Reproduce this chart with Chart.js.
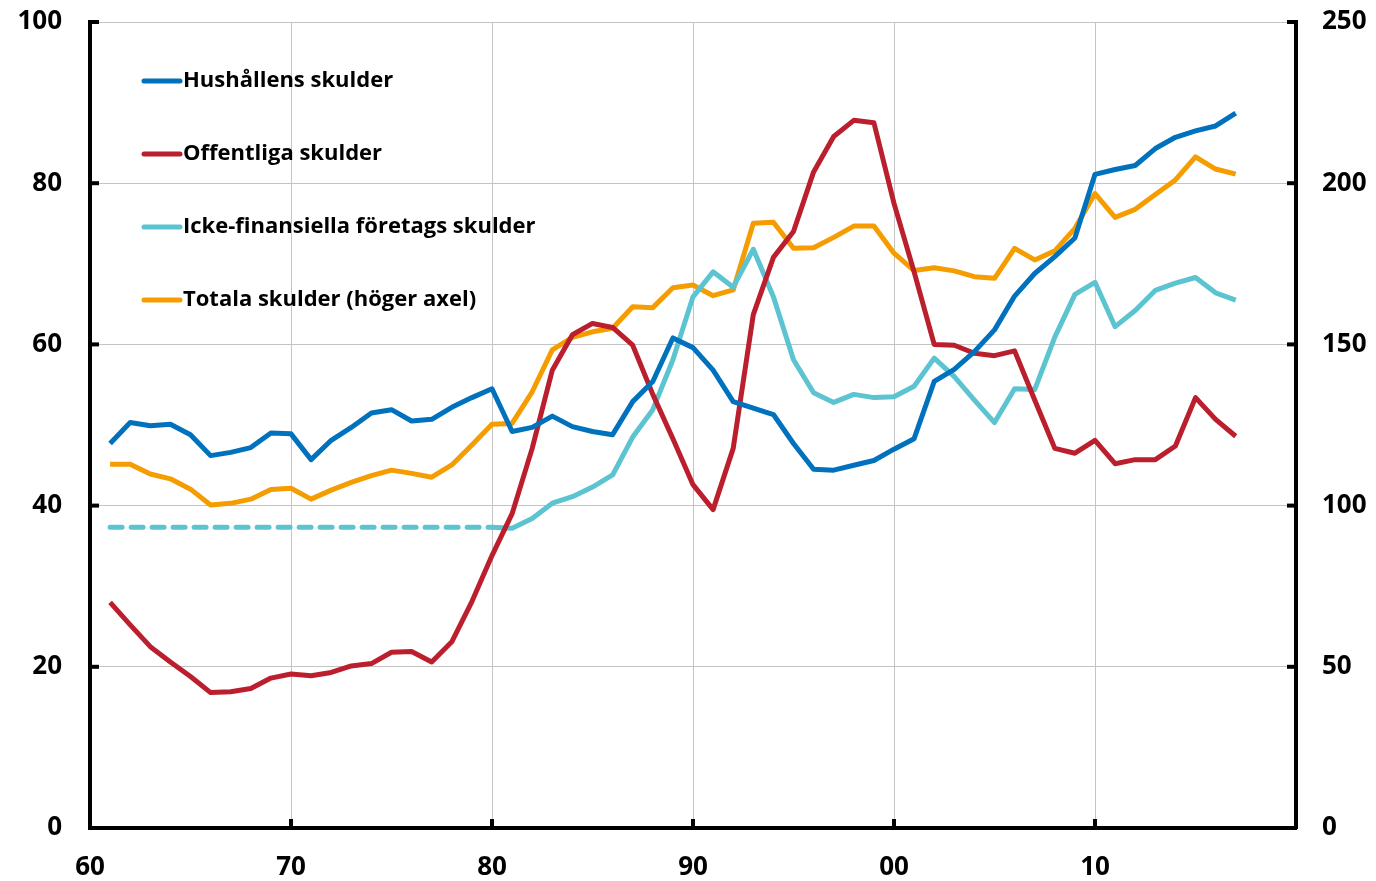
<!DOCTYPE html>
<html>
<head>
<meta charset="utf-8">
<script src="https://cdn.jsdelivr.net/npm/chart.js@4"></script>
<style>
  body { margin: 0; background: #fff; }
  canvas { display: block; }
</style>
</head>
<body>
<canvas id="grafico" width="1376" height="881"></canvas>
<script>
// Años (eje X)
const anios = [1961, 1962, 1963, 1964, 1965, 1966, 1967, 1968, 1969, 1970,
    1971, 1972, 1973, 1974, 1975, 1976, 1977, 1978, 1979, 1980,
    1981, 1982, 1983, 1984, 1985, 1986, 1987, 1988, 1989, 1990,
    1991, 1992, 1993, 1994, 1995, 1996, 1997, 1998, 1999, 2000,
    2001, 2002, 2003, 2004, 2005, 2006, 2007, 2008, 2009, 2010,
    2011, 2012, 2013, 2014, 2015, 2016, 2017];

// Hushållens skulder (vänster axel)
const hushall = [47.7, 50.3, 49.9, 50.1, 48.8, 46.2, 46.6, 47.2, 49.0, 48.9,
    45.7, 48.1, 49.7, 51.5, 51.9, 50.5, 50.7, 52.2, 53.4, 54.5,
    49.2, 49.7, 51.1, 49.8, 49.2, 48.8, 52.9, 55.4, 60.8, 59.6,
    56.8, 52.9, 52.1, 51.3, 47.7, 44.5, 44.4, 45.0, 45.6, 47.0,
    48.3, 55.4, 56.9, 59.1, 61.8, 66.0, 68.8, 70.9, 73.2, 81.1,
    81.7, 82.2, 84.3, 85.7, 86.5, 87.1, 88.7];

// Offentliga skulder (vänster axel)
const offentliga = [28.0, 25.2, 22.5, 20.6, 18.8, 16.8, 16.9, 17.3, 18.6, 19.1,
    18.9, 19.3, 20.1, 20.4, 21.8, 21.9, 20.6, 23.1, 28.1, 33.8,
    39.0, 47.1, 56.8, 61.2, 62.6, 62.1, 59.9, 53.8, 48.3, 42.6,
    39.5, 47.1, 63.7, 70.8, 74.0, 81.4, 85.8, 87.8, 87.5, 77.5,
    69.0, 60.0, 59.9, 58.9, 58.6, 59.2, 53.1, 47.1, 46.5, 48.1,
    45.2, 45.7, 45.7, 47.4, 53.4, 50.7, 48.6];

// Icke-finansiella företags skulder: uppskattad nivå (streckad) 1961-1980
const foretagAniosStreck = [1961, 1962, 1963, 1964, 1965, 1966, 1967, 1968, 1969, 1970,
    1971, 1972, 1973, 1974, 1975, 1976, 1977, 1978, 1979, 1980];
const foretagStreck = [37.3, 37.3, 37.3, 37.3, 37.3, 37.3, 37.3, 37.3, 37.3, 37.3,
    37.3, 37.3, 37.3, 37.3, 37.3, 37.3, 37.3, 37.3, 37.3, 37.3];

// Icke-finansiella företags skulder 1980-2017
const foretagAnios = [1980, 1981, 1982, 1983, 1984, 1985, 1986, 1987, 1988, 1989, 1990,
    1991, 1992, 1993, 1994, 1995, 1996, 1997, 1998, 1999, 2000,
    2001, 2002, 2003, 2004, 2005, 2006, 2007, 2008, 2009, 2010,
    2011, 2012, 2013, 2014, 2015, 2016, 2017];
const foretag = [37.3, 37.2, 38.4, 40.3, 41.1, 42.3, 43.8, 48.5, 51.9, 58.1, 65.9,
    69.0, 67.1, 71.8, 65.9, 58.1, 54.0, 52.8, 53.8, 53.4, 53.5,
    54.8, 58.3, 56.0, 53.1, 50.3, 54.5, 54.4, 60.9, 66.2, 67.7,
    62.2, 64.2, 66.7, 67.6, 68.3, 66.4, 65.5];

// Totala skulder (höger axel)
const totala = [112.8, 112.8, 109.8, 108.3, 105.1, 100.2, 100.7, 102.0, 105.0, 105.4,
    102.0, 104.8, 107.2, 109.3, 111.0, 110.0, 108.8, 112.6, 118.8, 125.2,
    125.5, 135.3, 148.3, 152.2, 153.9, 155.0, 161.7, 161.4, 167.6, 168.4,
    165.1, 166.9, 187.6, 187.9, 179.8, 180.0, 183.2, 186.7, 186.7, 178.3,
    172.9, 173.8, 172.8, 171.0, 170.5, 179.8, 176.2, 179.0, 186.0, 196.8,
    189.4, 191.9, 196.5, 201.0, 208.2, 204.4, 202.8];

const etiquetasX = { 1960: '60', 1970: '70', 1980: '80', 1990: '90', 2000: '00', 2010: '10' };

const AZUL = '#0071bc';
const ROJO = '#bb1f2d';
const CIAN = '#5cc3d0';
const NARANJA = '#f59d00';

const fuente = '"Open Sans", Lato, sans-serif';

function puntos(xs, ys) {
    return xs.map((x, i) => ({ x: x, y: ys[i] }));
}

// Ancho fijo de los ejes verticales, sin relleno extra arriba/abajo
function fijarAncho(ancho) {
    return (scale) => {
        scale.width = ancho;
        scale.paddingTop = 0;
        scale.paddingBottom = 0;
    };
}

// Leyenda dentro del área del gráfico
const leyenda = {
    id: 'leyenda',
    afterDatasetsDraw(chart) {
        const ctx = chart.ctx;
        const area = chart.chartArea;
        const items = [
            { texto: 'Hushållens skulder', color: AZUL },
            { texto: 'Offentliga skulder', color: ROJO },
            { texto: 'Icke-finansiella företags skulder', color: CIAN },
            { texto: 'Totala skulder (höger axel)', color: NARANJA }
        ];
        ctx.save();
        items.forEach((it, i) => {
            const y = area.top + 59 + i * 73;
            ctx.strokeStyle = it.color;
            ctx.lineWidth = 5;
            ctx.lineCap = 'round';
            ctx.beginPath();
            ctx.moveTo(area.left + 54, y);
            ctx.lineTo(area.left + 90, y);
            ctx.stroke();
            ctx.fillStyle = '#000';
            ctx.font = 'bold 22px ' + fuente;
            ctx.textBaseline = 'middle';
            ctx.textAlign = 'left';
            ctx.fillText(it.texto, area.left + 93, y);
        });
        ctx.restore();
    }
};

// Marcas de los ejes hacia adentro
const marcas = {
    id: 'marcas',
    afterDraw(chart) {
        const ctx = chart.ctx;
        const area = chart.chartArea;
        const s = chart.scales;
        ctx.save();
        ctx.fillStyle = '#000';
        s.y.ticks.forEach(t => {
            const py = s.y.getPixelForValue(t.value);
            ctx.fillRect(area.left, py - 2, 9, 4);
        });
        s.y2.ticks.forEach(t => {
            const py = s.y2.getPixelForValue(t.value);
            ctx.fillRect(area.right - 9, py - 2, 9, 4);
        });
        s.x.ticks.forEach(t => {
            const px = s.x.getPixelForValue(t.value);
            ctx.fillRect(px - 2, area.bottom - 9, 4, 9);
        });
        ctx.restore();
    }
};

new Chart(document.getElementById('grafico'), {
    type: 'line',
    data: {
        datasets: [
            {
                label: 'Hushållens skulder',
                data: puntos(anios, hushall),
                borderColor: AZUL,
                yAxisID: 'y'
            },
            {
                label: 'Offentliga skulder',
                data: puntos(anios, offentliga),
                borderColor: ROJO,
                yAxisID: 'y'
            },
            {
                label: 'Icke-finansiella företags skulder',
                data: puntos(foretagAnios, foretag),
                borderColor: CIAN,
                yAxisID: 'y'
            },
            {
                label: 'Icke-finansiella företags skulder (streckad)',
                data: puntos(foretagAniosStreck, foretagStreck),
                borderColor: CIAN,
                borderDash: [12, 9],
                borderCapStyle: 'round',
                yAxisID: 'y'
            },
            {
                label: 'Totala skulder (höger axel)',
                data: puntos(anios, totala),
                borderColor: NARANJA,
                yAxisID: 'y2'
            }
        ]
    },
    options: {
        responsive: false,
        devicePixelRatio: 1,
        animation: false,
        elements: {
            point: { radius: 0 },
            line: { borderWidth: 5, tension: 0, borderJoinStyle: 'round', fill: false }
        },
        layout: { padding: { top: 22, left: 0, right: 0, bottom: 0 } },
        plugins: {
            legend: { display: false },
            tooltip: { enabled: false }
        },
        scales: {
            x: {
                type: 'linear',
                min: 1960,
                max: 2020,
                afterFit: (scale) => { scale.height = 53; },
                ticks: {
                    stepSize: 10,
                    autoSkip: false,
                    maxRotation: 0,
                    padding: 24,
                    color: '#000',
                    font: { family: fuente, size: 26, weight: 'bold' },
                    callback: (v) => etiquetasX[v] || ''
                },
                grid: { color: '#c4c4c4', lineWidth: 1, drawTicks: false },
                border: { display: true, color: '#000', width: 4 }
            },
            y: {
                position: 'left',
                min: 0,
                max: 100,
                afterFit: fijarAncho(90),
                ticks: {
                    stepSize: 20,
                    padding: 28,
                    color: '#000',
                    font: { family: fuente, size: 26, weight: 'bold' }
                },
                grid: { color: '#c4c4c4', lineWidth: 1, drawTicks: false },
                border: { display: true, color: '#000', width: 4 }
            },
            y2: {
                position: 'right',
                min: 0,
                max: 250,
                afterFit: fijarAncho(80),
                ticks: {
                    stepSize: 50,
                    padding: 26,
                    color: '#000',
                    font: { family: fuente, size: 26, weight: 'bold' }
                },
                grid: { display: false, drawTicks: false },
                border: { display: true, color: '#000', width: 4 }
            }
        }
    },
    plugins: [leyenda, marcas]
});
</script>
</body>
</html>
